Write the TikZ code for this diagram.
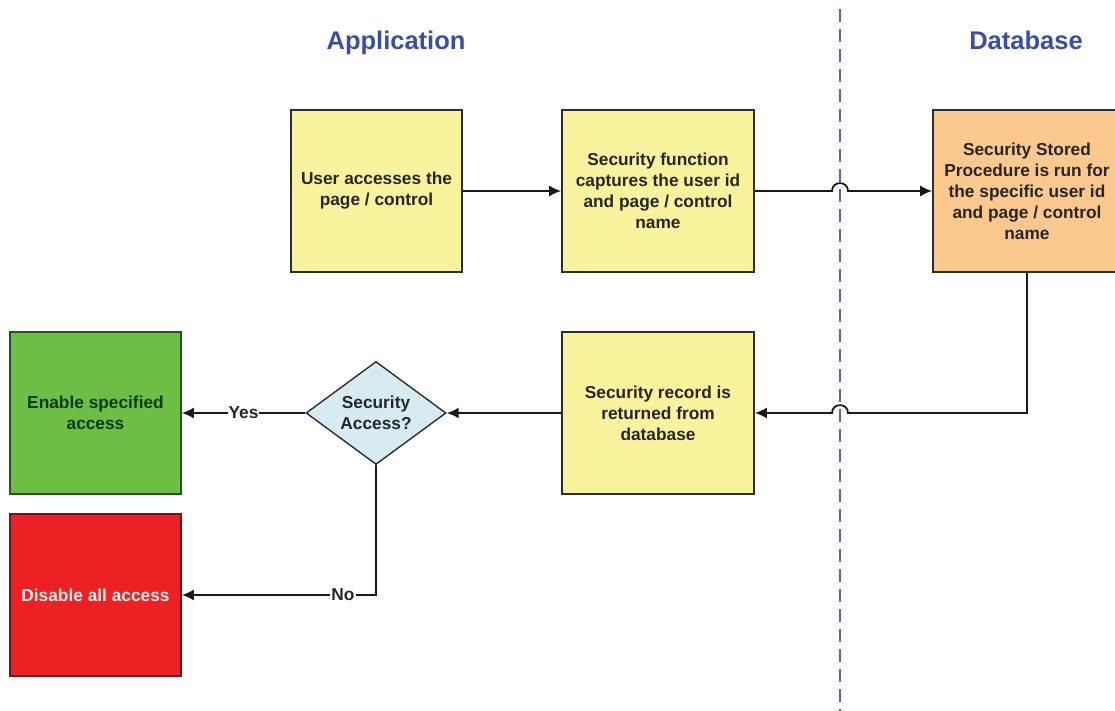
\documentclass[tikz,border=0pt]{standalone}
\usepackage{fontspec}
\setmainfont{Liberation Sans}
\usetikzlibrary{arrows.meta,shapes.geometric}

\definecolor{stepyellow}{RGB}{248,243,156}
\definecolor{dborange}{RGB}{251,201,142}
\definecolor{okgreen}{RGB}{109,190,69}
\definecolor{okgreentext}{RGB}{12,58,18}
\definecolor{okgreenline}{RGB}{40,80,35}
\definecolor{denyred}{RGB}{237,32,36}
\definecolor{denyredline}{RGB}{110,25,25}
\definecolor{denytext}{RGB}{255,238,238}
\definecolor{decisionblue}{RGB}{214,236,242}
\definecolor{headerblue}{RGB}{58,78,168}
\definecolor{laneblue}{RGB}{85,100,190}
\definecolor{edgegray}{RGB}{45,45,45}

\newcommand\boxfont{\fontsize{17.3}{21}\selectfont\bfseries}
\newcommand\headfont{\fontsize{25.5}{30}\selectfont\bfseries}

\tikzset{
  stepbox/.style={draw=edgegray, line width=1.6pt, fill=stepyellow,
    minimum width=171pt, minimum height=162pt, inner sep=0pt,
    align=center, font=\boxfont, text=black!85},
  decision/.style={diamond, draw=edgegray, line width=1.4pt, fill=decisionblue,
    minimum width=140pt, minimum height=103pt, shape aspect=1.36, inner sep=0pt,
    align=center, font=\boxfont, text=black!85},
  header/.style={font=\headfont, text=headerblue, anchor=base},
  arr/.style={draw=black!90, line width=1.8pt, -{Latex[length=12pt,width=11pt]}},
  lbl/.style={fill=white, inner sep=1pt, font=\boxfont, text=black!85},
  lane/.style={draw=laneblue, line width=1.9pt, dash pattern=on 13pt off 7pt},
}

\begin{document}
\begin{tikzpicture}[x=1pt,y=-1pt]
  \useasboundingbox (0,0) rectangle (1115,711);

  % swimlane titles and separator
  \node[header] (happ) at (396,50) {Application};
  \node[header] (hdb) at (1026,50) {Database};
  \draw[lane] (840,9) -- (840,711);

  % process steps
  \node[stepbox] (user) at (376.5,191) {User accesses the\\page / control};
  \node[stepbox, minimum width=192pt] (capture) at (658,191)
    {Security function\\captures the user id\\and page / control\\name};
  \node[stepbox, fill=dborange, minimum width=188pt] (proc) at (1027,191)
    {Security Stored\\Procedure is run for\\the specific user id\\and page / control\\name};
  \node[stepbox, minimum width=192pt] (record) at (658,413)
    {Security record is\\returned from\\database};
  \node[decision] (check) at (376,413) {Security\\Access?};
  \node[stepbox, fill=okgreen, draw=okgreenline, text=okgreentext] (enable) at (95.5,413)
    {Enable specified\\access};
  \node[stepbox, fill=denyred, draw=denyredline, text=denytext] (disable) at (95.5,595)
    {Disable all access};

  % line hops over the lane separator
  \coordinate (hopAin) at (832,191);
  \coordinate (hopAout) at (848,191);
  \coordinate (hopBin) at (848,413);
  \coordinate (hopBout) at (832,413);

  % connectors
  \draw[arr] (user) -- (capture);
  \draw[arr] (capture.east) -- (hopAin)
    .. controls (832,180.5) and (848,180.5) .. (hopAout) -- (proc.west);
  \draw[arr] (proc.south) |- (hopBin)
    .. controls (848,402.5) and (832,402.5) .. (hopBout) -- (record.east);
  \draw[arr] (record) -- (check);
  \draw[arr] (check.west) -- node[lbl] {Yes} (enable.east);
  \draw[arr] (check.south) |- node[lbl, pos=0.585] {No} (disable.east);
\end{tikzpicture}
\end{document}
